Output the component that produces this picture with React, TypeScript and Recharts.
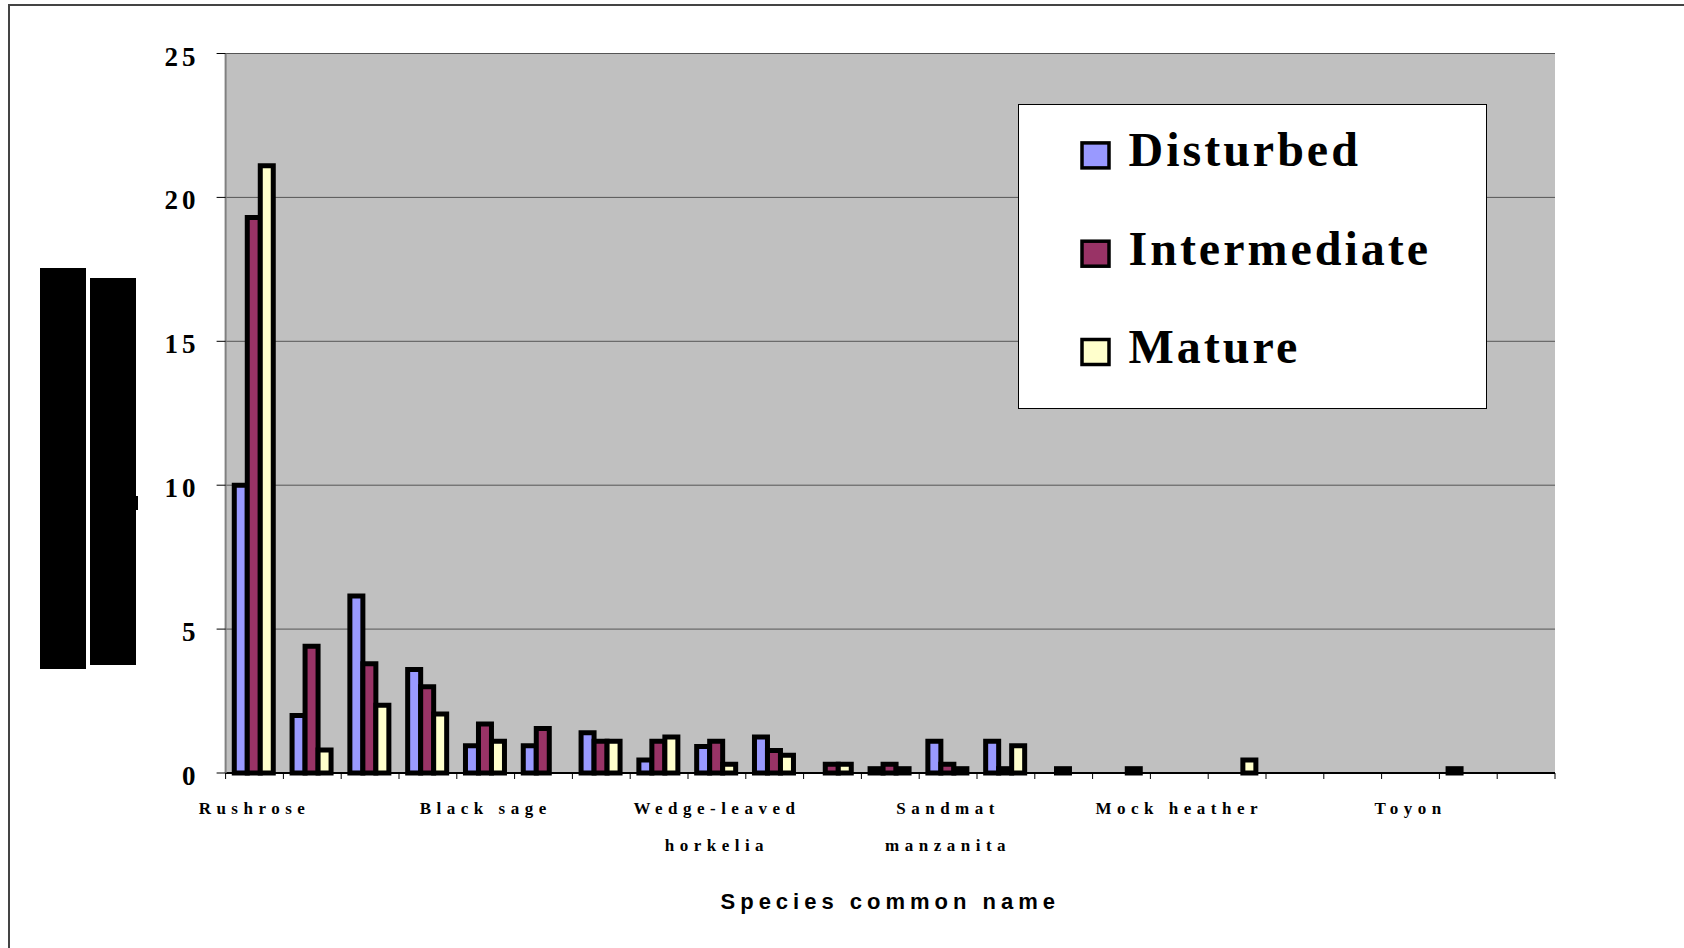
import React from "react";
import { BarChart, Bar, XAxis, YAxis, CartesianGrid, Legend } from "recharts";

// 23 species along the x axis, Excel only prints every 4th name
const species = [
  "Rushrose", "", "", "",
  "Black sage", "", "", "",
  "Wedge-leaved\nhorkelia", "", "", "",
  "Sandmat\nmanzanita", "", "", "",
  "Mock heather", "", "", "",
  "Toyon", "", "",
];

const disturbed = [10, 2.0, 6.15, 3.6, 0.95, 0.95, 1.4, 0.45, 0.92, 1.25, 0, 0.15, 1.1, 1.1, 0, 0, 0, 0, 0, 0, 0, 0.15, 0];
const intermediate = [19.3, 4.4, 3.8, 3.0, 1.7, 1.55, 1.1, 1.1, 1.1, 0.78, 0.3, 0.3, 0.3, 0.15, 0.15, 0, 0, 0, 0, 0, 0, 0, 0];
const mature = [21.1, 0.8, 2.35, 2.05, 1.1, 0, 1.1, 1.25, 0.3, 0.62, 0.3, 0.15, 0.15, 0.95, 0, 0.15, 0, 0.45, 0, 0, 0, 0, 0];

const yTicks = [0, 5, 10, 15, 20, 25];

const series = [
  { key: "Disturbed", color: "#9999FF", values: disturbed },
  { key: "Intermediate", color: "#993366", values: intermediate },
  { key: "Mature", color: "#FFFFCC", values: mature },
];

const LABEL_EVERY = 4;
const SERIF = "'Liberation Serif', 'Times New Roman', serif";
const SANS = "'Liberation Sans', Arial, sans-serif";

const data = species.map((name, i) => {
  const row: any = { name, pos: i + 0.5 };
  series.forEach((s) => (row[s.key] = s.values[i]));
  return row;
});

// boundary ticks (integers) + label slots (halves)
const tickPositions = Array.from({ length: species.length * 2 + 1 }, (_, k) => k / 2);

function SpeciesTick({ x, y, payload }: any) {
  const v = payload.value as number;
  if (Number.isInteger(v)) {
    return <line x1={x} x2={x} y1={y} y2={y + 6} stroke="#000" strokeWidth={1} />;
  }
  const i = v - 0.5;
  if (i % LABEL_EVERY !== 0 || !species[i]) return null;
  const lines = species[i].split("\n");
  return (
    <text
      textAnchor="middle"
      fontFamily={SERIF}
      fontWeight={700}
      fontSize={17}
      letterSpacing={5.5}
      fill="#000"
    >
      {lines.map((l, k) => (
        <tspan key={k} x={x} y={y + 40.5 + k * 37.2}>
          {l}
        </tspan>
      ))}
    </text>
  );
}

function ValueTick({ x, y, payload }: any) {
  return (
    <text
      x={x}
      y={y + 12}
      textAnchor="end"
      fontFamily={SERIF}
      fontWeight={700}
      fontSize={27}
      letterSpacing={4}
      fill="#000"
    >
      {payload.value}
    </text>
  );
}

function LegendBox({ payload }: any) {
  const items = payload || [];
  return (
    <div
      style={{
        width: 469,
        height: 305,
        background: "#fff",
        border: "1px solid #000",
        boxSizing: "border-box",
      }}
    >
      <svg width={467} height={303} style={{ display: "block" }}>
        {items.map((p: any, i: number) => (
          <g key={p.value}>
            <rect
              x={63}
              y={37.9 + i * 98.3}
              width={27}
              height={25}
              fill={p.color}
              stroke="#000"
              strokeWidth={3.5}
            />
            <text
              x={109.5}
              y={61.4 + i * 98.3}
              fontFamily={SERIF}
              fontWeight={700}
              fontSize={48}
              letterSpacing={3}
              fill="#000"
            >
              {p.value}
            </text>
          </g>
        ))}
      </svg>
    </div>
  );
}

export default function App() {
  return (
    <div
      style={{
        position: "fixed",
        left: 0,
        top: 0,
        width: 1684,
        height: 948,
        background: "#fff",
        overflow: "hidden",
      }}
    >
      {/* chart frame, cut off at right and bottom */}
      <div
        style={{
          position: "absolute",
          left: 8,
          top: 4,
          width: 1720,
          height: 1000,
          borderTop: "2px solid #444",
          borderLeft: "2px solid #444",
        }}
      />
      {/* blacked-out y axis title */}
      <div style={{ position: "absolute", left: 40, top: 268, width: 46, height: 401, background: "#000" }} />
      <div style={{ position: "absolute", left: 90, top: 278, width: 46, height: 387, background: "#000" }} />
      <div style={{ position: "absolute", left: 136, top: 496, width: 2, height: 14, background: "#000" }} />

      <div style={{ position: "absolute", left: 0, top: 0 }}>
        <BarChart
          width={1684}
          height={948}
          data={data}
          margin={{ top: 53.5, right: 129, bottom: 25, left: 115.6 }}
          barCategoryGap="15%"
          barGap={0}
        >
          <CartesianGrid
            xAxisId="num"
            yAxisId="left"
            vertical={false}
            fill="#C0C0C0"
            fillOpacity={1}
            stroke="#555"
            strokeWidth={1}
          />
          <XAxis xAxisId="cat" dataKey="name" hide height={0} />
          <XAxis
            xAxisId="num"
            dataKey="pos"
            type="number"
            domain={[0, species.length]}
            allowDataOverflow
            ticks={tickPositions}
            interval={0}
            height={150}
            tickSize={0}
            tickMargin={0}
            tickLine={false}
            axisLine={{ stroke: "#000", strokeWidth: 2 }}
            tick={<SpeciesTick />}
            label={{
              content: ({ viewBox }: any) => (
                <text
                  x={viewBox.x + viewBox.width / 2}
                  y={viewBox.y + 136}
                  textAnchor="middle"
                  fontFamily={SANS}
                  fontWeight={700}
                  fontSize={22}
                  letterSpacing={5}
                  fill="#000"
                >
                  Species common name
                </text>
              ),
            }}
          />
          <XAxis
            xAxisId="top"
            orientation="top"
            dataKey="pos"
            type="number"
            domain={[0, species.length]}
            allowDataOverflow
            height={0}
            tick={false}
            tickLine={false}
            axisLine={{ stroke: "#808080", strokeWidth: 4 }}
          />
          <YAxis
            yAxisId="left"
            domain={[0, 25]}
            ticks={yTicks}
            interval={0}
            width={110}
            tickSize={9}
            tickMargin={17}
            tickLine={{ stroke: "#000", strokeWidth: 1 }}
            axisLine={{ stroke: "#808080", strokeWidth: 2 }}
            tick={<ValueTick />}
          />
          <YAxis
            yAxisId="right"
            orientation="right"
            domain={[0, 25]}
            width={0}
            tick={false}
            tickLine={false}
            axisLine={{ stroke: "#808080", strokeWidth: 4 }}
          />
          <Legend
            layout="vertical"
            align="center"
            verticalAlign="middle"
            width={469}
            height={305}
            wrapperStyle={{ left: 1017.5, top: 104.3, right: "auto", bottom: "auto", width: 469, height: 305 }}
            content={(props: any) => <LegendBox payload={props.payload} />}
          />
          {series.map((s) => (
            <Bar
              key={s.key}
              xAxisId="cat"
              yAxisId="left"
              dataKey={s.key}
              name={s.key}
              fill={s.color}
              stroke="#000"
              strokeWidth={5}
              isAnimationActive={false}
            />
          ))}
        </BarChart>
      </div>
    </div>
  );
}
